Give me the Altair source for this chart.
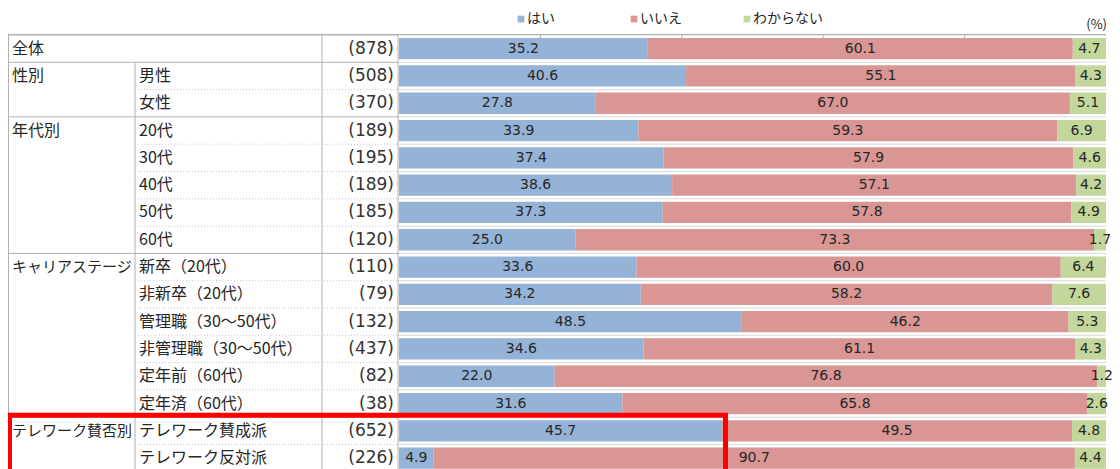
import altair as alt
import pandas as pd

# ---------------- data ----------------
row_keys = ["全体", "男性", "女性", "20代", "30代", "40代", "50代", "60代",
            "新卒（20代）", "非新卒（20代）", "管理職（30～50代）", "非管理職（30～50代）",
            "定年前（60代）", "定年済（60代）", "テレワーク賛成派", "テレワーク反対派"]
sub_labels = ["", "男性", "女性", "20代", "30代", "40代", "50代", "60代",
              "新卒（20代）", "非新卒（20代）", "管理職（30～50代）", "非管理職（30～50代）",
              "定年前（60代）", "定年済（60代）", "テレワーク賛成派", "テレワーク反対派"]
group_names = ["全体", "性別", "年代別", "キャリアステージ", "テレワーク賛否別"]
group_sizes = [1, 2, 5, 6, 2]
n_values = [878, 508, 370, 189, 195, 189, 185, 120, 110, 79, 132, 437, 82, 38, 652, 226]
yes_vals = [35.2, 40.6, 27.8, 33.9, 37.4, 38.6, 37.3, 25.0, 33.6, 34.2, 48.5, 34.6, 22.0, 31.6, 45.7, 4.9]
no_vals = [60.1, 55.1, 67.0, 59.3, 57.9, 57.1, 57.8, 73.3, 60.0, 58.2, 46.2, 61.1, 76.8, 65.8, 49.5, 90.7]
dk_vals = [4.7, 4.3, 5.1, 6.9, 4.6, 4.2, 4.9, 1.7, 6.4, 7.6, 5.3, 4.3, 1.2, 2.6, 4.8, 4.4]
categories = ["はい", "いいえ", "わからない"]
colors = ["#95B3D7", "#D99694", "#C3D69B"]
tick_fracs = [0.2, 0.4, 0.6, 0.8]
highlight_group = "テレワーク賛否別"

# ---------------- layout ----------------
W, H = 1104, 461
TOP, STEP, NROWS = 27.0, 27.3, len(row_keys)
X0, X100 = 391, 1098
COL1, COL2, COL3 = 127, 314, 390
LEGEND_RANGE = [513, 739]
LEGEND_Y = 11
JP = "Noto Sans CJK JP"
NUM = "DejaVu Sans"
TXT = "#262626"

xs = alt.Scale(domain=[0, 1], range=[X0, X100])
ys = alt.Scale(domain=row_keys, range=[TOP, TOP + NROWS * STEP], paddingInner=0.22, paddingOuter=0.11)
cs = alt.Scale(domain=categories, range=colors)

# long table for stacked bars
recs = []
for i, r in enumerate(row_keys):
    for j, (c, vals) in enumerate(zip(categories, [yes_vals, no_vals, dk_vals])):
        recs.append({"row": r, "cat": c, "order": j, "value": vals[i]})
long_df = pd.DataFrame(recs)

base = (alt.Chart(long_df)
        .transform_stack(stack="value", as_=["v0", "v1"], groupby=["row"],
                         sort=[alt.SortField("order")], offset="normalize")
        .transform_calculate(mid="(datum.v0 + datum.v1) / 2"))

bars = base.mark_bar().encode(
    x=alt.X("v0:Q", scale=xs, axis=None),
    x2="v1:Q",
    y=alt.Y("row:N", scale=ys, axis=None),
    color=alt.Color("cat:N", scale=cs, legend=None),
)

bar_text = base.mark_text(font=NUM, fontSize=14, color=TXT, baseline="middle").encode(
    x=alt.X("mid:Q", scale=xs, axis=None),
    y=alt.Y("row:N", scale=ys, axis=None),
    text=alt.Text("value:Q", format=".1f"),
)

# legend (drawn from the category list)
leg_df = pd.DataFrame({"cat": categories})
lxs = alt.Scale(type="point", domain=categories, range=LEGEND_RANGE, padding=0)
leg_sq = alt.Chart(leg_df).mark_square(size=45, opacity=1, strokeWidth=0).encode(
    x=alt.X("cat:N", scale=lxs, axis=None), y=alt.value(LEGEND_Y),
    color=alt.Color("cat:N", scale=cs, legend=None))
leg_tx = alt.Chart(leg_df).mark_text(font=JP, fontSize=14, color=TXT, align="left",
                                     baseline="middle", dx=6).encode(
    x=alt.X("cat:N", scale=lxs, axis=None), y=alt.value(LEGEND_Y - 0.5), text="cat:N")

# table lines
group_starts = []
acc = 0
for s in group_sizes:
    group_starts.append(acc)
    acc += s
bottom = TOP + NROWS * STEP
solid = []
dotted = []
barsep = []
for k in range(NROWS + 1):
    y = TOP + k * STEP
    if k in group_starts or k == NROWS:
        solid.append({"x1": 0, "x2": COL3, "y1": y, "y2": y})
    else:
        dotted.append({"x1": COL1, "x2": COL3, "y1": y, "y2": y})
    barsep.append({"x1": COL3, "x2": X100, "y1": y, "y2": y})
solid.append({"x1": 0.5, "x2": 0.5, "y1": TOP, "y2": bottom})
solid.append({"x1": COL1, "x2": COL1, "y1": TOP + STEP, "y2": bottom})
solid.append({"x1": COL2, "x2": COL2, "y1": TOP, "y2": bottom})
solid.append({"x1": COL3, "x2": COL3, "y1": TOP, "y2": bottom})


def line_layer(recs_, color, dash=None, width=1):
    kw = dict(color=color, strokeWidth=width)
    if dash:
        kw["strokeDash"] = dash
    return alt.Chart(pd.DataFrame(recs_)).mark_rule(**kw).encode(
        x=alt.X("x1:Q", scale=None), x2="x2:Q",
        y=alt.Y("y1:Q", scale=None), y2="y2:Q")


solid_layer = line_layer(solid, "#B0B0B0")
dotted_layer = line_layer(dotted, "#C8C8C8", dash=[1, 2])
barsep_layer = line_layer(barsep, "#D9D9D9")

top_line = alt.Chart(pd.DataFrame({"a": [0]})).mark_rule(color="#B0B0B0").encode(
    x=alt.value(0), x2=alt.value(X100), y=alt.value(TOP - 0.5))
ticks = alt.Chart(pd.DataFrame({"t": tick_fracs})).mark_rule(color="#B0B0B0").encode(
    x=alt.X("t:Q", scale=xs, axis=None), y=alt.value(TOP - 0.5), y2=alt.value(TOP + 3.5))

# table text
first_rows = [row_keys[s] for s in group_starts]
grp_df = pd.DataFrame({"row": first_rows, "label": group_names})
grp_text = alt.Chart(grp_df).mark_text(font=JP, color=TXT, align="left",
                                       baseline="middle").encode(
    x=alt.value(4), y=alt.Y("row:N", scale=ys, axis=None), text="label:N",
    size=alt.condition("length(datum.label) > 4", alt.value(15), alt.value(16)))

sub_df = pd.DataFrame({"row": row_keys, "label": sub_labels})
sub_text = alt.Chart(sub_df).mark_text(font=JP, fontSize=16, color=TXT, align="left",
                                       baseline="middle").encode(
    x=alt.value(131), y=alt.Y("row:N", scale=ys, axis=None), text="label:N")

n_df = pd.DataFrame({"row": row_keys, "n": n_values})
n_text = alt.Chart(n_df).transform_calculate(lab="'(' + datum.n + ')'").mark_text(
    font=NUM, fontSize=17, color="#333333", align="right", baseline="middle").encode(
    x=alt.value(386), y=alt.Y("row:N", scale=ys, axis=None), text="lab:N")

pct = alt.Chart(pd.DataFrame({"t": ["(%)"]})).mark_text(
    font=JP, fontSize=13, color=TXT, align="right", baseline="middle").encode(
    x=alt.value(1099), y=alt.value(17), text="t:N")

# highlight box around the telework group
hi_start = group_starts[group_names.index(highlight_group)]
hi_rect = alt.Chart(pd.DataFrame({"a": [0]})).mark_rect(
    fillOpacity=0, stroke="#FF0000", strokeWidth=5).encode(
    x=alt.value(1.5), x2=alt.value(717.5),
    y=alt.value(TOP + hi_start * STEP - 2), y2=alt.value(H + 20))

chart = alt.layer(
    barsep_layer, solid_layer, dotted_layer, top_line, ticks,
    bars, bar_text, leg_sq, leg_tx, grp_text, sub_text, n_text, pct, hi_rect
).resolve_scale(x="independent", y="independent").properties(
    width=W, height=H, autosize=alt.AutoSizeParams(type="none"), padding=0
).configure_view(stroke=None)

chart.save("out.html", embed_options={"renderer": "svg", "actions": False})
